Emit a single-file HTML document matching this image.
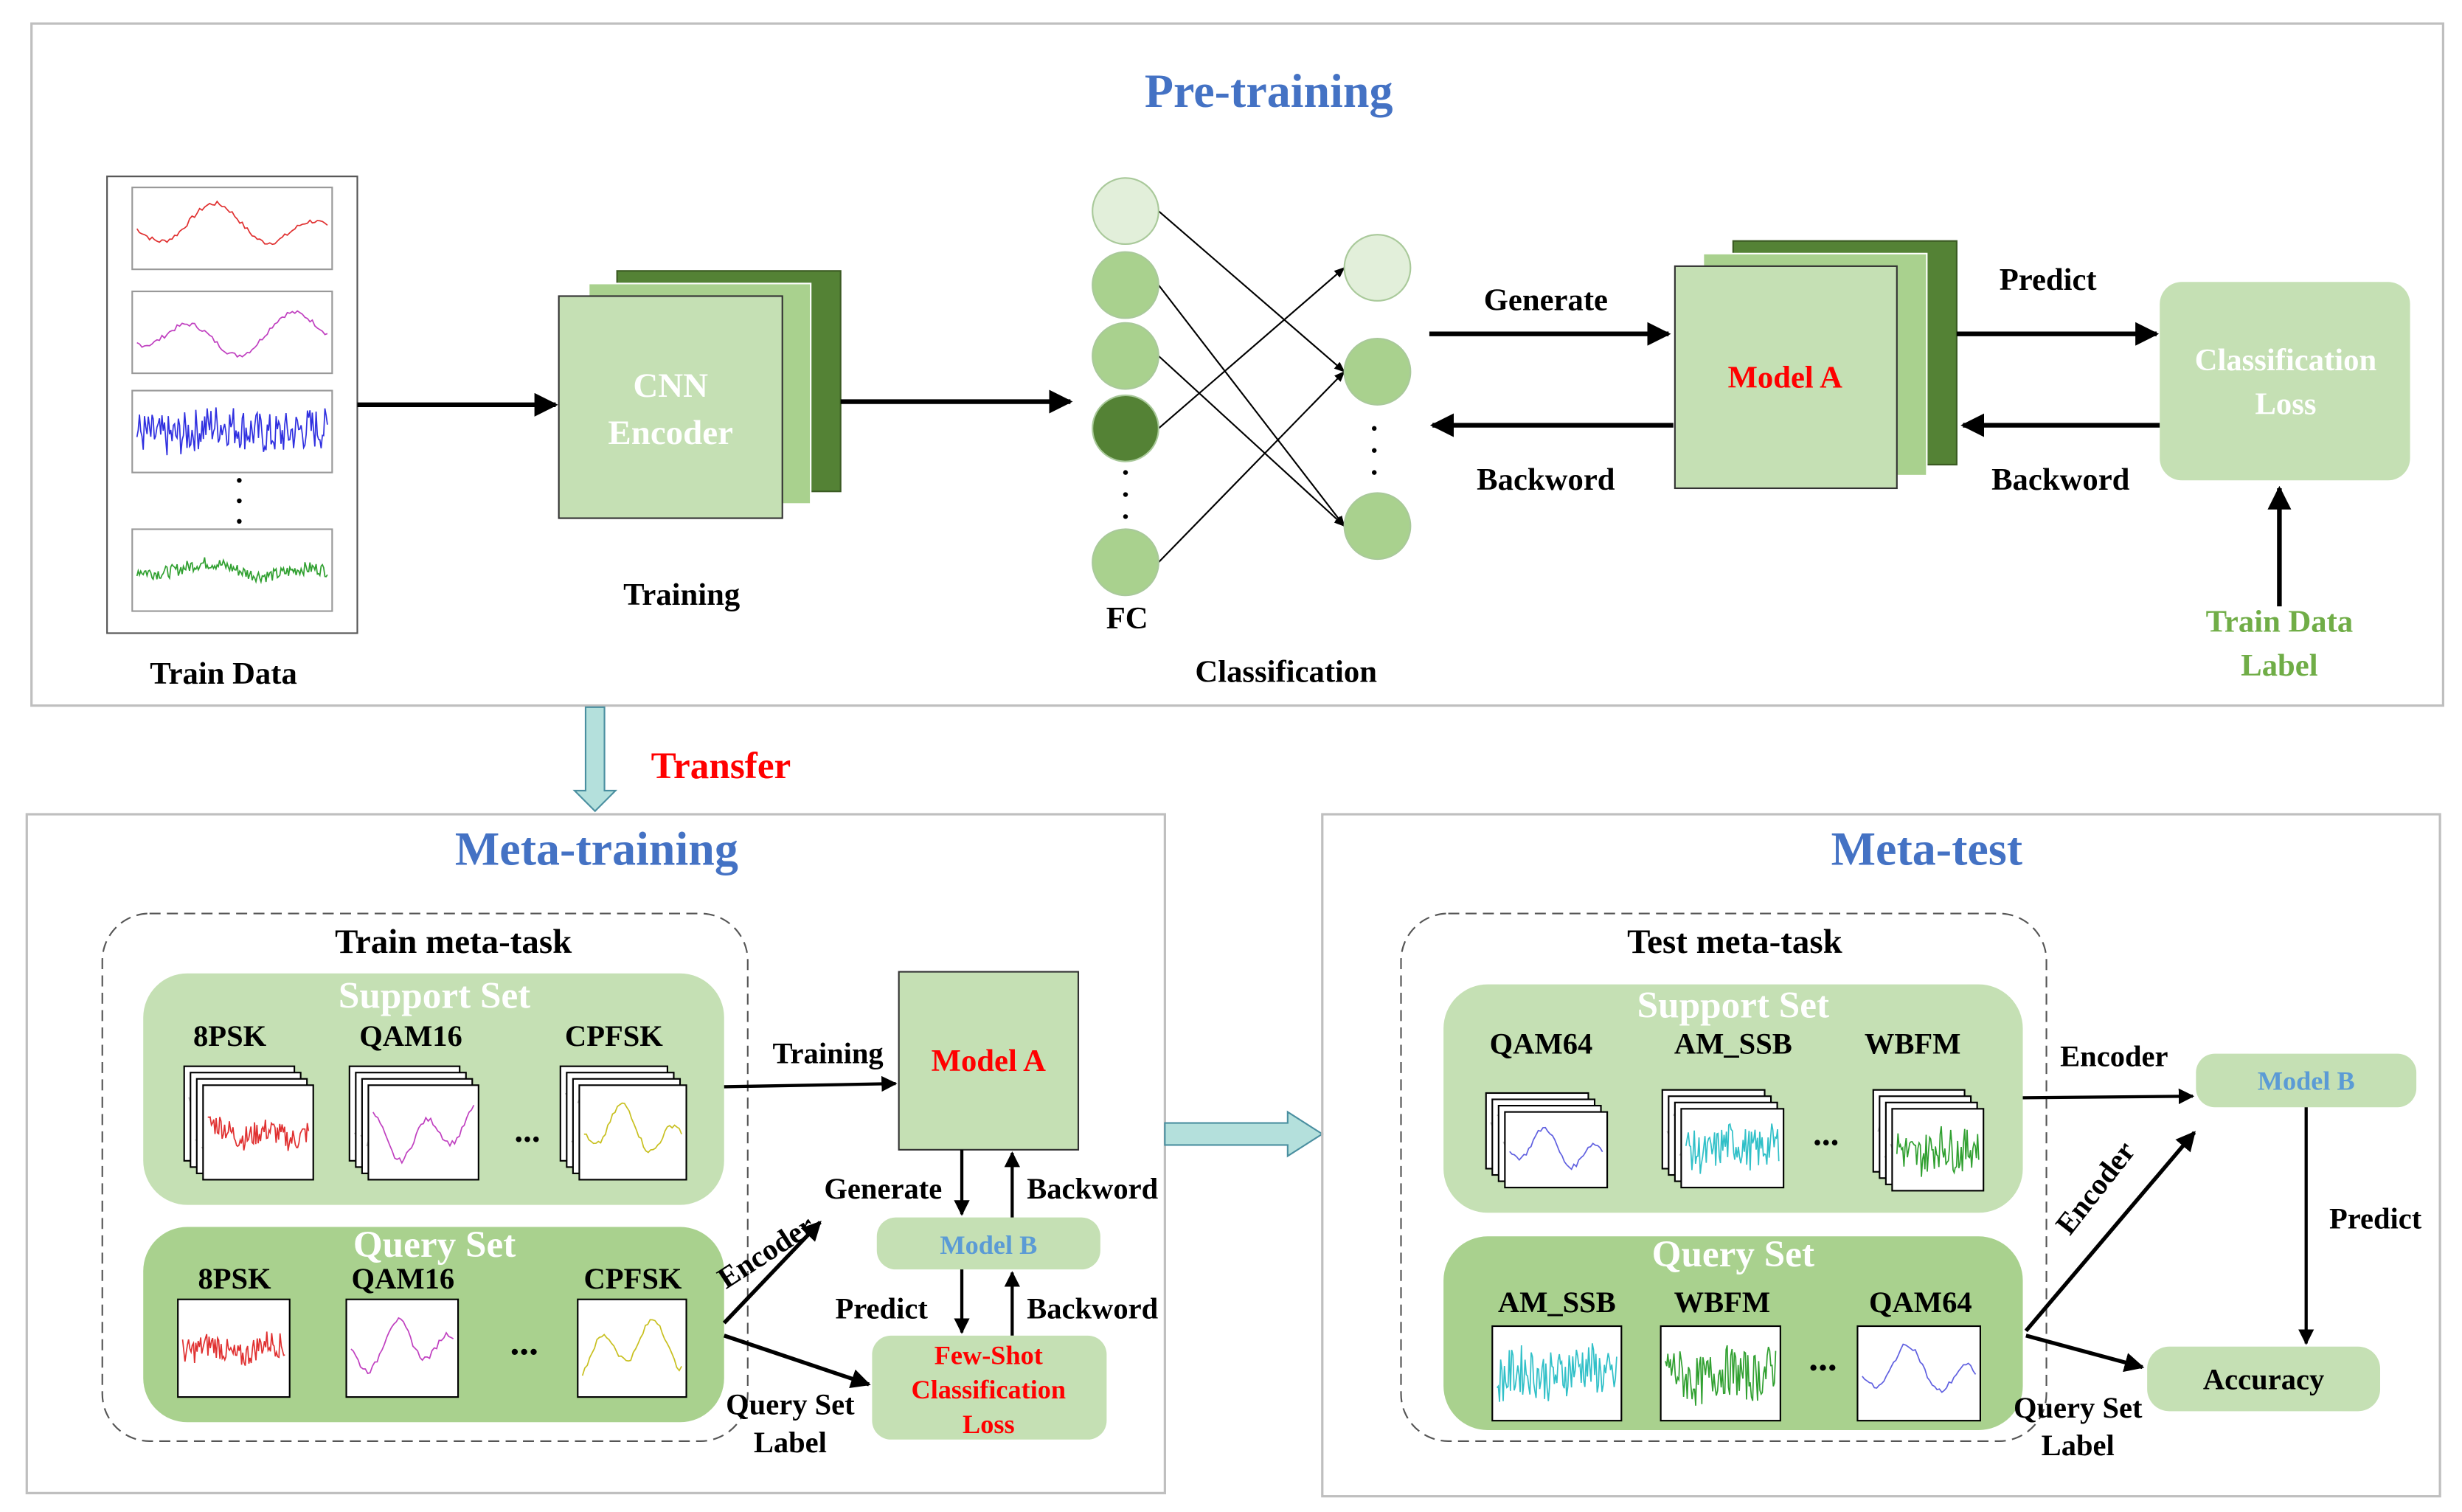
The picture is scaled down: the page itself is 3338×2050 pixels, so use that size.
<!DOCTYPE html>
<html><head><meta charset="utf-8"><style>
html,body{margin:0;padding:0;background:#fff;}
svg{display:block;}
text{font-family:"Liberation Serif",serif;font-weight:bold;}
</style></head><body>
<svg id="s" width="3338" height="2050" viewBox="0 0 1564 960" preserveAspectRatio="none" xmlns="http://www.w3.org/2000/svg">
<defs>
<marker id="ar" viewBox="0 0 10 10" refX="9" refY="5" markerWidth="5" markerHeight="5" orient="auto-start-reverse" markerUnits="strokeWidth"><path d="M0,0 L10,5 L0,10 z" fill="#000"/></marker>
<marker id="ar2" viewBox="0 0 10 10" refX="9" refY="5" markerWidth="7" markerHeight="7" orient="auto" markerUnits="strokeWidth"><path d="M0,1 L10,5 L0,9 z" fill="#000"/></marker>
</defs>
<rect width="1564" height="960" fill="#fff"/>
<!-- Pre-training -->
<rect x="20" y="15" width="1532" height="433" fill="none" stroke="#bfbfbf" stroke-width="1.5"/>
<text x="806" y="68" font-size="30" fill="#4472C4" text-anchor="middle">Pre-training</text>
<rect x="68" y="112" width="159" height="290" fill="#fff" stroke="#555" stroke-width="1"/>
<g id="td"></g>
<text x="142" y="434" font-size="20" text-anchor="middle">Train Data</text>
<line x1="227" y1="257" x2="353" y2="257" stroke="#000" stroke-width="3" marker-end="url(#ar)"/>
<rect x="392" y="172" width="142" height="140" fill="#548235" stroke="#3a5a22"/>
<rect x="374" y="180" width="141" height="140" fill="#a9d18e" stroke="#fff"/>
<rect x="355" y="188" width="142" height="141" fill="#c5e0b4" stroke="#333"/>
<text x="426" y="252" font-size="22" fill="#fff" text-anchor="middle">CNN</text>
<text x="426" y="282" font-size="22" fill="#fff" text-anchor="middle">Encoder</text>
<text x="433" y="384" font-size="20" text-anchor="middle">Training</text>
<line x1="534" y1="255" x2="680" y2="255" stroke="#000" stroke-width="3" marker-end="url(#ar)"/>
<g stroke="#000" stroke-width="1" fill="none">
<line x1="736" y1="134" x2="854" y2="236" marker-end="url(#ar2)"/>
<line x1="736" y1="181" x2="854" y2="334" marker-end="url(#ar2)"/>
<line x1="736" y1="226" x2="854" y2="334" marker-end="url(#ar2)"/>
<line x1="736" y1="272" x2="854" y2="170" marker-end="url(#ar2)"/>
<line x1="736" y1="357" x2="854" y2="236" marker-end="url(#ar2)"/>
</g>
<g stroke="#a9c99a" stroke-width="1">
<circle cx="715" cy="134" r="21" fill="#e2efda"/>
<circle cx="715" cy="181" r="21" fill="#a9d18e"/>
<circle cx="715" cy="226" r="21" fill="#a9d18e"/>
<circle cx="715" cy="272" r="21" fill="#548235"/>
<circle cx="715" cy="357" r="21" fill="#a9d18e"/>
<circle cx="875" cy="170" r="21" fill="#e2efda"/>
<circle cx="875" cy="236" r="21" fill="#a9d18e"/>
<circle cx="875" cy="334" r="21" fill="#a9d18e"/>
</g>
<g fill="#000"><circle cx="715" cy="300" r="1.5"/><circle cx="715" cy="314" r="1.5"/><circle cx="715" cy="328" r="1.5"/>
<circle cx="873" cy="272" r="1.5"/><circle cx="873" cy="286" r="1.5"/><circle cx="873" cy="300" r="1.5"/></g>
<text x="716" y="399" font-size="20" text-anchor="middle">FC</text>
<text x="817" y="433" font-size="20" text-anchor="middle">Classification</text>
<line x1="908" y1="212" x2="1060" y2="212" stroke="#000" stroke-width="3" marker-end="url(#ar)"/>
<text x="982" y="197" font-size="20" text-anchor="middle">Generate</text>
<line x1="1063" y1="270" x2="910" y2="270" stroke="#000" stroke-width="3" marker-end="url(#ar)"/>
<text x="982" y="311" font-size="20" text-anchor="middle">Backword</text>
<rect x="1101" y="153" width="142" height="142" fill="#548235" stroke="#3a5a22"/>
<rect x="1082" y="161" width="142" height="141" fill="#a9d18e" stroke="#fff"/>
<rect x="1064" y="169" width="141" height="141" fill="#c5e0b4" stroke="#333"/>
<text x="1134" y="246" font-size="20" fill="#ff0000" text-anchor="middle">Model A</text>
<line x1="1243" y1="212" x2="1370" y2="212" stroke="#000" stroke-width="3" marker-end="url(#ar)"/>
<text x="1301" y="184" font-size="20" text-anchor="middle">Predict</text>
<line x1="1372" y1="270" x2="1247" y2="270" stroke="#000" stroke-width="3" marker-end="url(#ar)"/>
<text x="1309" y="311" font-size="20" text-anchor="middle">Backword</text>
<rect x="1372" y="179" width="159" height="126" rx="14" fill="#c5e0b4"/>
<text x="1452" y="235" font-size="20" fill="#fff" text-anchor="middle">Classification</text>
<text x="1452" y="263" font-size="20" fill="#fff" text-anchor="middle">Loss</text>
<line x1="1448" y1="385" x2="1448" y2="310" stroke="#000" stroke-width="3" marker-end="url(#ar)"/>
<text x="1448" y="401" font-size="20" fill="#70AD47" text-anchor="middle">Train Data</text>
<text x="1448" y="429" font-size="20" fill="#70AD47" text-anchor="middle">Label</text>
<!-- Transfer -->
<path d="M372,449 L384,449 L384,502 L391,502 L378,515 L365,502 L372,502 Z" fill="#b4e0dc" stroke="#4a8fa0" stroke-width="1"/>
<text x="458" y="494" font-size="24" fill="#ff0000" text-anchor="middle">Transfer</text>
<!-- Meta-training -->
<rect x="17" y="517" width="723" height="431" fill="none" stroke="#bfbfbf" stroke-width="1.5"/>
<text x="379" y="549" font-size="30" fill="#4472C4" text-anchor="middle">Meta-training</text>
<rect x="65" y="580" width="410" height="335" rx="30" fill="none" stroke="#555" stroke-dasharray="7,4"/>
<text x="288" y="605" font-size="22" text-anchor="middle">Train meta-task</text>
<rect x="91" y="618" width="369" height="147" rx="28" fill="#c5e0b4"/>
<text x="276" y="640" font-size="24" fill="#fff" text-anchor="middle">Support Set</text>
<text x="146" y="664" font-size="19" text-anchor="middle">8PSK</text>
<text x="261" y="664" font-size="19" text-anchor="middle">QAM16</text>
<text x="390" y="664" font-size="19" text-anchor="middle">CPFSK</text>
<text x="335" y="725" font-size="22" text-anchor="middle">...</text>
<rect x="91" y="779" width="369" height="124" rx="28" fill="#a9d18e"/>
<text x="276" y="798" font-size="24" fill="#fff" text-anchor="middle">Query Set</text>
<text x="149" y="818" font-size="19" text-anchor="middle">8PSK</text>
<text x="256" y="818" font-size="19" text-anchor="middle">QAM16</text>
<text x="402" y="818" font-size="19" text-anchor="middle">CPFSK</text>
<text x="333" y="860" font-size="24" text-anchor="middle">...</text>
<g id="mt"></g>
<rect x="571" y="617" width="114" height="113" fill="#c5e0b4" stroke="#333"/>
<text x="628" y="680" font-size="20" fill="#ff0000" text-anchor="middle">Model A</text>
<line x1="460" y1="690" x2="569" y2="688" stroke="#000" stroke-width="2" marker-end="url(#ar)"/>
<text x="526" y="675" font-size="19" text-anchor="middle">Training</text>
<rect x="557" y="773" width="142" height="33" rx="12" fill="#c5e0b4"/>
<text x="628" y="796" font-size="17" fill="#5B9BD5" text-anchor="middle">Model  B</text>
<line x1="611" y1="730" x2="611" y2="771" stroke="#000" stroke-width="2" marker-end="url(#ar)"/>
<text x="561" y="761" font-size="19" text-anchor="middle">Generate</text>
<line x1="643" y1="773" x2="643" y2="732" stroke="#000" stroke-width="2" marker-end="url(#ar)"/>
<text x="694" y="761" font-size="19" text-anchor="middle">Backword</text>
<line x1="611" y1="806" x2="611" y2="846" stroke="#000" stroke-width="2" marker-end="url(#ar)"/>
<text x="560" y="837" font-size="19" text-anchor="middle">Predict</text>
<line x1="643" y1="848" x2="643" y2="808" stroke="#000" stroke-width="2" marker-end="url(#ar)"/>
<text x="694" y="837" font-size="19" text-anchor="middle">Backword</text>
<rect x="554" y="848" width="149" height="66" rx="12" fill="#c5e0b4"/>
<text x="628" y="866" font-size="17" fill="#ff0000" text-anchor="middle">Few-Shot</text>
<text x="628" y="888" font-size="17" fill="#ff0000" text-anchor="middle">Classification</text>
<text x="628" y="910" font-size="17" fill="#ff0000" text-anchor="middle">Loss</text>
<line x1="460" y1="840" x2="521" y2="776" stroke="#000" stroke-width="2.5" marker-end="url(#ar)"/>
<text x="490" y="800" font-size="19" text-anchor="middle" transform="rotate(-33 490 800)">Encoder</text>
<line x1="460" y1="848" x2="552" y2="879" stroke="#000" stroke-width="2.5" marker-end="url(#ar)"/>
<text x="502" y="898" font-size="19" text-anchor="middle">Query Set</text>
<text x="502" y="922" font-size="19" text-anchor="middle">Label</text>
<!-- middle arrow -->
<path d="M740,713 L818,713 L818,706 L840,720 L818,734 L818,727 L740,727 Z" fill="#b4e0dc" stroke="#4a8fa0" stroke-width="1"/>
<!-- Meta-test -->
<rect x="840" y="517" width="710" height="433" fill="none" stroke="#bfbfbf" stroke-width="1.5"/>
<text x="1224" y="549" font-size="30" fill="#4472C4" text-anchor="middle">Meta-test</text>
<rect x="890" y="580" width="410" height="335" rx="30" fill="none" stroke="#555" stroke-dasharray="7,4"/>
<text x="1102" y="605" font-size="22" text-anchor="middle">Test meta-task</text>
<rect x="917" y="625" width="368" height="145" rx="28" fill="#c5e0b4"/>
<text x="1101" y="646" font-size="24" fill="#fff" text-anchor="middle">Support Set</text>
<text x="979" y="669" font-size="19" text-anchor="middle">QAM64</text>
<text x="1101" y="669" font-size="19" text-anchor="middle">AM_SSB</text>
<text x="1215" y="669" font-size="19" text-anchor="middle">WBFM</text>
<text x="1160" y="727" font-size="22" text-anchor="middle">...</text>
<rect x="917" y="785" width="368" height="123" rx="28" fill="#a9d18e"/>
<text x="1101" y="804" font-size="24" fill="#fff" text-anchor="middle">Query Set</text>
<text x="989" y="833" font-size="19" text-anchor="middle">AM_SSB</text>
<text x="1094" y="833" font-size="19" text-anchor="middle">WBFM</text>
<text x="1220" y="833" font-size="19" text-anchor="middle">QAM64</text>
<text x="1158" y="870" font-size="24" text-anchor="middle">...</text>
<g id="te"></g>
<rect x="1395" y="669" width="140" height="34" rx="12" fill="#c5e0b4"/>
<text x="1465" y="692" font-size="17" fill="#5B9BD5" text-anchor="middle">Model  B</text>
<line x1="1285" y1="697" x2="1393" y2="696" stroke="#000" stroke-width="2" marker-end="url(#ar)"/>
<text x="1343" y="677" font-size="19" text-anchor="middle">Encoder</text>
<line x1="1287" y1="845" x2="1394" y2="719" stroke="#000" stroke-width="2.5" marker-end="url(#ar)"/>
<text x="1336" y="758" font-size="19" text-anchor="middle" transform="rotate(-52 1336 758)">Encoder</text>
<line x1="1465" y1="703" x2="1465" y2="853" stroke="#000" stroke-width="2" marker-end="url(#ar)"/>
<text x="1509" y="780" font-size="19" text-anchor="middle">Predict</text>
<rect x="1364" y="855" width="148" height="41" rx="14" fill="#c5e0b4"/>
<text x="1438" y="882" font-size="19" text-anchor="middle">Accuracy</text>
<line x1="1287" y1="848" x2="1361" y2="868" stroke="#000" stroke-width="2.5" marker-end="url(#ar)"/>
<text x="1320" y="900" font-size="19" text-anchor="middle">Query Set</text>
<text x="1320" y="924" font-size="19" text-anchor="middle">Label</text>
</svg>
<script>
var NS="http://www.w3.org/2000/svg";
var seed=7;function rnd(){seed=(seed*9301+49297)%233280;return seed/233280;}
function el(p,n,a){var e=document.createElementNS(NS,n);for(var k in a)e.setAttribute(k,a[k]);p.appendChild(e);return e;}
function plot(g,x,y,w,h,c,noise,border){
 el(g,"rect",{x:x,y:y,width:w,height:h,fill:"#fff",stroke:border||"#000","stroke-width":1});
 var pts=[],n=Math.max(20,Math.round(w*(noise?1.2:0.6))),ph=rnd()*6;
 for(var i=0;i<=n;i++){var t=i/n;var v=Math.sin(t*12+ph)*0.5+Math.sin(t*5+ph*2)*0.3;
  if(noise)v=v*0.3+(rnd()-0.5)*1.4*noise;else v+= (rnd()-0.5)*0.15;
  v=Math.max(-1,Math.min(1,v));pts.push((x+3+t*(w-6)).toFixed(1)+","+(y+h/2-v*h*0.38).toFixed(1));}
 el(g,"polyline",{points:pts.join(" "),fill:"none",stroke:c,"stroke-width":0.8});
}
function stack(g,x,y,w,h,c,noise,k){for(var i=k-1;i>=0;i--)plot(g,x+i*-4,y+i*-4,w,h,i?"#bbb":c,i?0:noise);}
var td=document.getElementById("td");
plot(td,84,119,127,52,"#e03030",0,"#999");
plot(td,84,185,127,52,"#c040c0",0,"#999");
plot(td,84,248,127,52,"#3030e0",1,"#999");
plot(td,84,336,127,52,"#30a030",0.3,"#999");
el(td,"circle",{cx:152,cy:305,r:1.5,fill:"#000"});el(td,"circle",{cx:152,cy:318,r:1.5,fill:"#000"});el(td,"circle",{cx:152,cy:331,r:1.5,fill:"#000"});
var mt=document.getElementById("mt");
stack(mt,129,689,70,60,"#e03030",0.5,4);
stack(mt,234,689,70,60,"#c040c0",0,4);
stack(mt,368,689,68,60,"#c8c020",0,4);
plot(mt,113,825,71,62,"#e03030",0.5);
plot(mt,220,825,71,62,"#c040c0",0);
plot(mt,367,825,69,62,"#c8c020",0);
var te=document.getElementById("te");
stack(te,956,706,65,48,"#6060e0",0,4);
stack(te,1068,704,65,50,"#30c0c8",1,4);
stack(te,1202,704,58,52,"#30a030",1,4);
plot(te,948,842,82,60,"#30c0c8",1);
plot(te,1055,842,76,60,"#30a030",1);
plot(te,1180,842,78,60,"#6060e0",0);
</script>
</body></html>
